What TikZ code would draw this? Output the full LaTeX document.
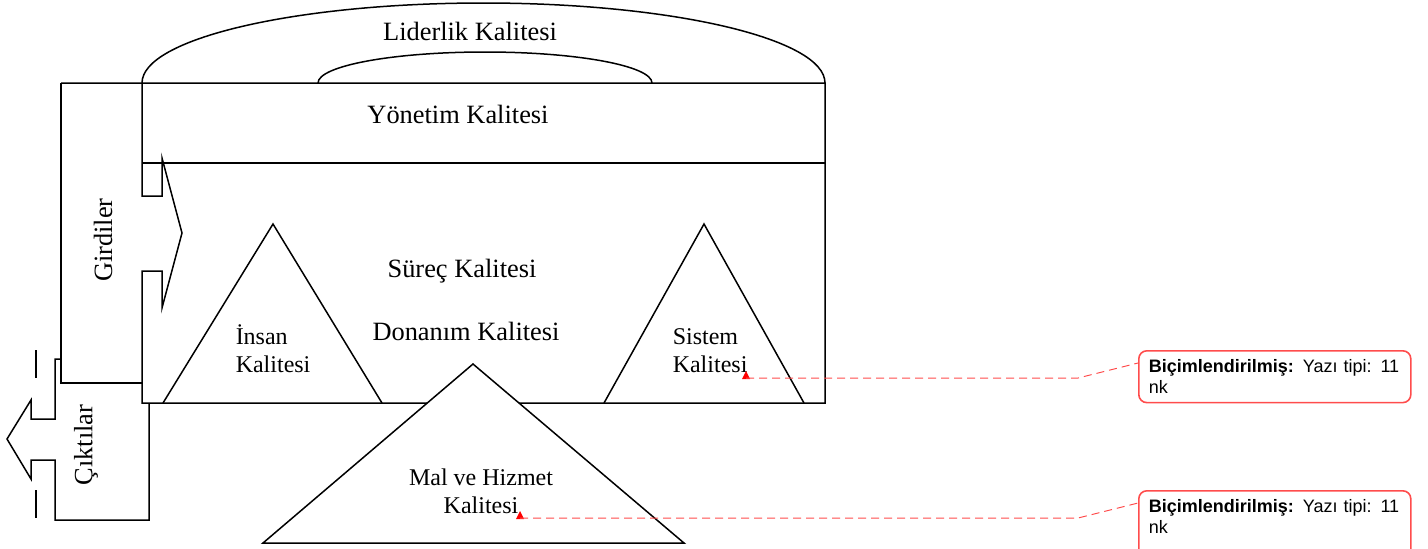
\documentclass[tikz,border=0pt]{standalone}
\usepackage{fontspec}
\setmainfont{Liberation Serif}
\newfontfamily\notefont{Liberation Sans}

\begin{document}
\begin{tikzpicture}[x=0.5pt, y=-0.5pt, line width=0.75pt,
        big/.style = {font=\fontsize{13.2}{15}\selectfont, inner sep=0pt, anchor=base},
        small/.style = {font=\fontsize{12}{14}\selectfont, inner sep=0pt, anchor=base west, align=left},
        note/.style = {draw=red!70, line width=0.8pt, rounded corners=4pt, anchor=north west,
            font=\notefont\fontsize{9}{10.5}\selectfont, align=left, text width=126pt,
            inner xsep=5pt, inner ysep=4.4pt, text height=6.6pt},
        link/.style = {draw=red!70, dashed, dash pattern=on 4pt off 2.5pt, line width=0.5pt} ]

        \useasboundingbox (0,0) rectangle (1428,548);

        % leadership arches
        \draw (142,83) arc[start angle=180, end angle=360, x radius=341.5, y radius=80];
        \draw (318,83) arc[start angle=180, end angle=360, x radius=167, y radius=31];

        % frame with the input arrow
        \draw (61,83) -- (825,83) -- (825,403) -- (142,403) -- (142,271) -- (162,271)
            -- (162,308) -- (182,233) -- (162,158) -- (162,196) -- (142,196) -- (142,83);
        \draw (142,163) -- (825,163);
        \draw (142,383) -- (61,383) -- (61,83);

        % output arrow
        \draw (61,359) -- (55,359) -- (55,419) -- (31,419) -- (31,400) -- (7,439) -- (31,479)
            -- (31,460) -- (55,460) -- (55,520) -- (149,520) -- (149,403);
        \draw (36,350) -- (36,378);
        \draw (36,490) -- (36,518);

        % triangles
        \draw (163,403) -- (273,224) -- (382,403);
        \draw (604,403) -- (704,224) -- (804,403);
        \draw[fill=white] (263,543) -- (473,364) -- (684,543) -- cycle;

        \node at (470,40) [big] (lider) {Liderlik Kalitesi};
        \node at (458,123) [big] (yonetim) {Yönetim Kalitesi};
        \node at (462,277) [big] (surec) {Süreç Kalitesi};
        \node at (466,340) [big] (donanim) {Donanım Kalitesi};
        \node at (103,240) [big, anchor=center, rotate=90] (girdi) {Girdiler};
        \node at (86,445) [big, anchor=center, rotate=90] (cikti) {Çıktılar};

        \node at (235,372) [small] (insan) {İnsan\\Kalitesi};
        \node at (672,372) [small] (sistem) {Sistem\\Kalitesi};
        \node at (481,513) [small, anchor=base, align=center] (mal) {Mal ve Hizmet\\Kalitesi};

        % comments
        \node at (1138,350) [note] (note1) {\textbf{Biçimlendirilmiş:} Yazı tipi: 11\\nk};
        \node at (1138,490) [note, text depth=26pt] (note2) {\textbf{Biçimlendirilmiş:} Yazı tipi: 11\\nk};

        \fill[red] (742,379) -- (746,371) -- (750,379) -- cycle;
        \fill[red] (516,519) -- (520,511) -- (524,519) -- cycle;
        \coordinate (m1) at (746,378);
        \coordinate (m2) at (520,518);
        \coordinate (k1) at (1078,378);
        \coordinate (k2) at (1078,518);

        \path[link]
        (m1) -- (k1) -- ([yshift=-6.5pt]note1.north west)
        (m2) -- (k2) -- ([yshift=-6.5pt]note2.north west);

    \end{tikzpicture}
\end{document}
